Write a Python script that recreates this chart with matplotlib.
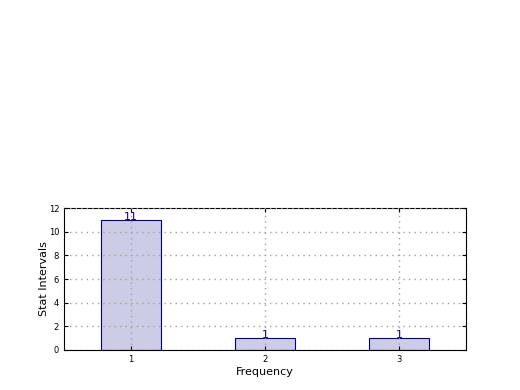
import matplotlib
matplotlib.use("Agg")
import matplotlib.pyplot as plt

categories = [1, 2, 3]
values = [11, 1, 1]
tick_labels = ["1", "2", "3"]

fig = plt.figure(figsize=(5.2, 3.9), dpi=100)
ax = fig.add_axes([0.123, 0.1026, 0.773, 0.364])
bars = ax.bar(categories, values, width=0.45, color=(0.8, 0.8, 0.9), edgecolor="navy", linewidth=0.8, zorder=2)
for x, v in zip(categories, values):
    ax.annotate(str(v), (x, v), xytext=(0, 2), textcoords="offset points",
                ha="center", va="center", color="navy", fontsize=8, zorder=3)
ax.set_xlim(0.5, 3.5)
ax.set_ylim(0, 12)
ax.set_xticks(categories)
ax.set_xticklabels(tick_labels)
ax.set_yticks(range(0, 13, 2))
ax.tick_params(direction="in", labelsize=6, length=3, top=True, right=True)
ax.grid(True, linestyle=(0, (1, 3)), color="#a0a0a0", linewidth=1.0, zorder=3)
ax.set_axisbelow(False)
ax.set_xlabel("Frequency", fontsize=8, labelpad=2)
ax.set_ylabel("Stat Intervals", fontsize=8, labelpad=0)
fig.savefig("out.png", dpi=100)
